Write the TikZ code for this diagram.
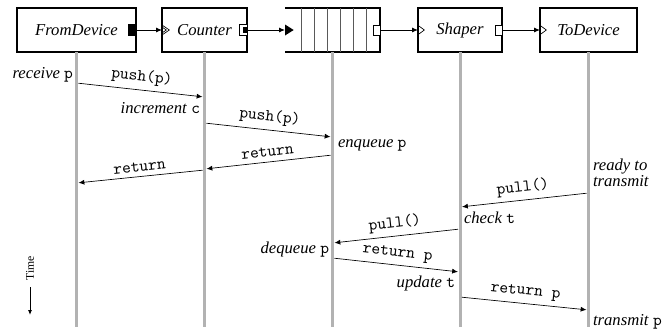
\documentclass[tikz,border=0pt]{standalone}
\usepackage{fontspec}
\setmainfont{Liberation Serif}
\usetikzlibrary{arrows.meta,positioning,calc}

\newcommand{\tvar}[1]{\textup{\texttt{#1}}}

\tikzset{
  element/.style={draw, line width=1.1pt, outer sep=0pt, minimum height=26.4pt, font=\itshape},
  lifeline/.style={line width=1.8pt, black!30},
  link/.style={-{Latex[length=3.5pt,width=3pt]}, semithick},
  msg/.style={-{Latex[length=3.5pt,width=3pt]}, thin, shorten <=1.2pt, shorten >=1.2pt},
  call/.style={midway, sloped, above=-0.5pt, font=\ttfamily},
  event/.style={font=\itshape, inner sep=1pt},
  % ports on the element boxes
  pushout/.pic={\filldraw (-4.8pt,-3.3pt) rectangle (0,3.3pt);},
  pullout/.pic={\draw[fill=white] (-4pt,-3pt) rectangle (0,3pt);},
  agnout/.pic={\draw[fill=white] (-4.5pt,-3.2pt) rectangle (0,3.2pt);
               \fill (-2.4pt,-2pt) rectangle (0,2pt);},
  pushin/.pic={\fill (0,-3.3pt) -- (5.2pt,0) -- (0,3.3pt) -- cycle;},
  pullin/.pic={\draw (0,-2.8pt) -- (3.8pt,0) -- (0,2.8pt);},
  agnin/.pic={\draw (0,-3pt) -- (4.4pt,0) -- (0,3pt);
              \draw (0,-1.8pt) -- (2.6pt,0) -- (0,1.8pt);}
}

\begin{document}
\begin{tikzpicture}[x=0.6pt, y=-0.6pt]
  \useasboundingbox (0,0) rectangle (665,333);

  % elements
  \node[element, minimum width=71.4pt] (fromdev) at (76.5,30) {FromDevice};
  \node[element, minimum width=51pt]   (counter) at (204.5,30) {Counter};
  \node[minimum width=57pt, minimum height=26.4pt, outer sep=0pt] (queue) at (332.5,30) {};
  \node[element, minimum width=50.4pt] (shaper)  at (460,30) {Shaper};
  \node[element, minimum width=58.2pt] (todev)   at (588.5,30) {ToDevice};

  % queue slots
  \draw[line width=1.1pt] (queue.north west) -- (queue.north east)
    -- (queue.south east) -- (queue.south west);
  \foreach \i in {1,...,6}
    \draw[black!65, semithick] ([xshift=-\i*7.9pt]queue.north east)
      -- ([xshift=-\i*7.9pt]queue.south east);

  % ports
  \pic at (fromdev.east) {pushout};
  \pic at (counter.west) {agnin};
  \pic at (counter.east) {agnout};
  \pic at (queue.west)   {pushin};
  \pic at (queue.east)   {pullout};
  \pic at (shaper.west)  {pullin};
  \pic at (shaper.east)  {pullout};
  \pic at (todev.west)   {pullin};

  % connections
  \draw[link] (fromdev.east) -- (counter.west);
  \draw[link] (counter.east) -- (queue.west);
  \draw[link] (queue.east) -- (shaper.west);
  \draw[link] (shaper.east) -- (todev.west);

  % lifelines
  \foreach \e in {fromdev,counter,queue,shaper,todev}
    \draw[lifeline] (\e.south) -- (\e |- 0,327);

  % push path
  \node[event, anchor=east] (recv) at (75,75) {receive \tvar{p}};
  \draw[msg] (fromdev |- 0,83) -- node[call] {push(p)} (counter |- 0,97);
  \node[event, anchor=east] (incr) at (202,108) {increment \tvar{c}};
  \draw[msg] (counter |- 0,123) -- node[call] {push(p)} (queue |- 0,137);
  \node[event, anchor=west] (enq) at (336,145) {enqueue \tvar{p}};
  \draw[msg] (queue |- 0,155) -- node[call] {return} (counter |- 0,169);
  \draw[msg] (counter |- 0,170) -- node[call] {return} (fromdev |- 0,183);

  % pull path
  \node[event, anchor=west, align=left, font=\itshape\fontsize{10}{8.5}\selectfont]
    (ready) at (591,173) {ready to\\transmit};
  \draw[msg] (todev |- 0,193) -- node[call] {pull()} (shaper |- 0,207);
  \node[event, anchor=west] (check) at (462,218) {check \tvar{t}};
  \draw[msg] (shaper |- 0,229) -- node[call] {pull()} (queue |- 0,243);
  \node[event, anchor=east] (deq) at (331,250) {dequeue \tvar{p}};
  \draw[msg] (queue |- 0,258) -- node[call] {return p} (shaper |- 0,272);
  \node[event, anchor=east] (upd) at (457,283) {update \tvar{t}};
  \draw[msg] (shaper |- 0,297) -- node[call] {return p} (todev |- 0,310);
  \node[event, anchor=west] (xmit) at (591,322) {transmit \tvar{p}};

  % time axis
  \node[rotate=90, font=\fontsize{7}{8}\selectfont, inner sep=1pt] (time) at (30,268) {Time};
  \coordinate (timeend) at (30,315);
  \draw[-{Latex[length=3pt,width=2.5pt]}, semithick] ([yshift=-3pt]time.west) -- (timeend);
\end{tikzpicture}
\end{document}
